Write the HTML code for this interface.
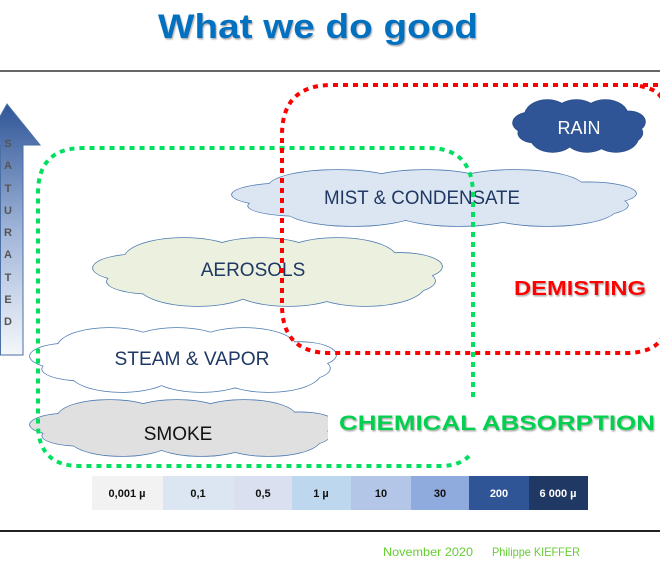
<!DOCTYPE html>
<html><head><meta charset="utf-8"><style>
html,body{margin:0;padding:0;background:#fff;}
svg{display:block;}
text{font-family:"Liberation Sans",sans-serif;}
</style></head><body>
<svg id="s" width="660" height="565" viewBox="0 0 660 565" xmlns="http://www.w3.org/2000/svg">
<defs>
<linearGradient id="ag" x1="0" y1="0" x2="0" y2="1">
<stop offset="0" stop-color="#2f5597"/><stop offset="0.5" stop-color="#9fb4d8"/><stop offset="1" stop-color="#f4f7fb"/>
</linearGradient>
<filter id="sh" x="-5%" y="-20%" width="110%" height="140%"><feDropShadow dx="1" dy="1.5" stdDeviation="0.8" flood-color="#777" flood-opacity="0.6"/></filter>
</defs>
<text x="318" y="38" text-anchor="middle" font-size="34" font-weight="bold" fill="#0070c0" textLength="320" lengthAdjust="spacingAndGlyphs" filter="url(#sh)">What we do good</text>
<line x1="0" y1="71" x2="660" y2="71" stroke="#333" stroke-width="1.5"/>
<line x1="0" y1="531" x2="660" y2="531" stroke="#222" stroke-width="2"/>
<!-- arrow -->
<path d="M0.5,355 L0.5,145 L-16,145 L7,104 L40,145 L23,145 L23,355 Z" fill="url(#ag)" stroke="#4a6fa5" stroke-width="1"/>
<g font-size="11" font-weight="bold" fill="#555" text-anchor="middle">
<text x="8" y="147">S</text><text x="8" y="169">A</text><text x="8" y="192">T</text><text x="8" y="214">U</text><text x="8" y="236">R</text><text x="8" y="258">A</text><text x="8" y="281">T</text><text x="8" y="303">E</text><text x="8" y="325">D</text>
</g>
<g id="clouds"></g>
<g id="labels" font-size="19" fill="#1f3864" text-anchor="middle">
<text x="579" y="134" fill="#fff" font-size="18">RAIN</text>
<text x="422" y="204" textLength="196" lengthAdjust="spacingAndGlyphs">MIST &amp; CONDENSATE</text>
<text x="253" y="276">AEROSOLS</text>
<text x="192" y="365" textLength="155" lengthAdjust="spacingAndGlyphs">STEAM &amp; VAPOR</text>
<text x="178" y="440" fill="#111">SMOKE</text>
</g>
<!-- green dotted -->
<path d="M473,397 L473,195 Q473,148 428,148 L83,148 Q38,148 38,193 L38,424 Q38,466 80,466 L440,466 Q460,466 470,455" fill="none" stroke="#00e060" stroke-width="4" stroke-dasharray="5,5"/>
<!-- red dotted -->
<path d="M668,85 L332,85 Q282,85 282,135 L282,305 Q282,353 330,353 L625,353 Q660,353 665,330" fill="none" stroke="#ff0000" stroke-width="4" stroke-dasharray="5,5"/>
<path d="M640,86 Q660,90 662,100" fill="none" stroke="#ff0000" stroke-width="4" stroke-dasharray="5,5"/>
<rect x="328" y="399" width="332" height="42" fill="#fff"/>
<text x="580" y="295" text-anchor="middle" font-size="20" font-weight="bold" fill="#ff0000" textLength="132" lengthAdjust="spacingAndGlyphs" filter="url(#sh)">DEMISTING</text>
<text x="497" y="430" text-anchor="middle" font-size="21" font-weight="bold" fill="#00d050" textLength="316" lengthAdjust="spacingAndGlyphs" filter="url(#sh)">CHEMICAL  ABSORPTION</text>
<!-- scale -->
<g font-size="11" font-weight="bold" text-anchor="middle">
<rect x="92" y="476" width="71" height="34" fill="#f2f2f2"/><text x="127" y="497" fill="#111">0,001 µ</text>
<rect x="163" y="476" width="71" height="34" fill="#dce6f2"/><text x="198" y="497" fill="#111">0,1</text>
<rect x="234" y="476" width="58" height="34" fill="#dae0f0"/><text x="263" y="497" fill="#111">0,5</text>
<rect x="292" y="476" width="59" height="34" fill="#bdd7ee"/><text x="321" y="497" fill="#111">1 µ</text>
<rect x="351" y="476" width="60" height="34" fill="#b4c6e7"/><text x="381" y="497" fill="#111">10</text>
<rect x="411" y="476" width="58" height="34" fill="#8faadc"/><text x="440" y="497" fill="#111">30</text>
<rect x="469" y="476" width="60" height="34" fill="#2f5597"/><text x="499" y="497" fill="#fff">200</text>
<rect x="529" y="476" width="59" height="34" fill="#203864"/><text x="558" y="497" fill="#fff">6 000 µ</text>
</g>
<text x="383" y="556" font-size="12" fill="#66cc33" textLength="90" lengthAdjust="spacingAndGlyphs">November  2020</text>
<text x="492" y="556" font-size="12" fill="#66cc33" textLength="88" lengthAdjust="spacingAndGlyphs">Philippe KIEFFER</text>
</svg>
<script>
(function(){
var NS="http://www.w3.org/2000/svg",g=document.getElementById("clouds");
function cloud(x1,y1,x2,y2,fill,stroke){
 var w=x2-x1,h=y2-y1,cx=(x1+x2)/2,cy=(y1+y2)/2,E=[];
 E.push([cx,cy,.38*w,.4*h]);
 [-0.24,-0.02,0.2].forEach(function(t){E.push([cx+t*w,cy-.2*h,.17*w,.3*h]);});
 [-0.2,0.06,0.28].forEach(function(t){E.push([cx+t*w,cy+.2*h,.17*w,.3*h]);});
 E.push([x1+.13*w,cy-.06*h,.13*w,.2*h]);E.push([x1+.17*w,cy+.14*h,.13*w,.18*h]);
 E.push([x2-.12*w,cy-.08*h,.12*w,.2*h]);E.push([x2-.14*w,cy+.13*h,.12*w,.2*h]);
 var p=[[stroke,stroke,1.6],[fill,"none",0]];
 p.forEach(function(s){E.forEach(function(e){var el=document.createElementNS(NS,"ellipse");
  el.setAttribute("cx",e[0]);el.setAttribute("cy",e[1]);el.setAttribute("rx",e[2]+(s[2]?0.8:0));el.setAttribute("ry",e[3]+(s[2]?0.8:0));
  el.setAttribute("fill",s[0]);g.appendChild(el);});});
}
cloud(513,100,645,152,"#2f5597","#2a4d8a");
cloud(232,170,636,226,"#dce6f2","#4a78b0");
cloud(93,238,442,306,"#ebf1de","#4a78b0");
cloud(30,328,336,392,"#ffffff","#4a78b0");
cloud(30,400,336,456,"#e0e0e0","#4a78b0");
})();
</script>
</body></html>
